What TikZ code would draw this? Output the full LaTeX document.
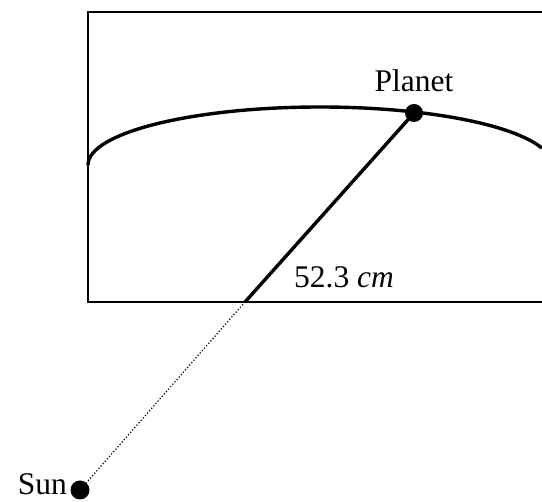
\documentclass[tikz,border=0pt]{standalone}
\usepackage{fontspec}
\setmainfont{Liberation Serif}
\tikzset{
    body/.style={circle, fill=black, inner sep=0pt},
    lbl/.style={font=\fontsize{31.5}{38}\selectfont, inner sep=0pt}
}
\begin{document}
\begin{tikzpicture}[x=1pt, y=-1pt]
            \useasboundingbox (0, 0) rectangle (542, 502);
            % box
            \draw[line width=1.6pt] (542, 12) -- (88, 12) -- (88, 302) -- (542, 302);
            % orbit
            \draw[line width=3.4pt] (88, 165) arc[start angle=180, end angle=343, x radius=232, y radius=58];
            % bodies
            \node[body, minimum size=18pt] (planet) at (414, 113) {};
            \node[body, minimum size=19pt] (sun) at (80, 490) {};
            \coordinate (cross) at (245, 302);
            \node[lbl, anchor=base] at (414, 92) {Planet};
            \node[lbl, anchor=base east, text depth=0pt] at (67, 495) {Sun};
            \node[lbl, anchor=base west] at (294, 288) {52.3 \textit{cm}};
            % distance
            \draw[line width=3.4pt] (planet.center) -- (cross);
            \draw[line width=1.2pt, dotted] (cross) -- (sun);
        \end{tikzpicture}
\end{document}
